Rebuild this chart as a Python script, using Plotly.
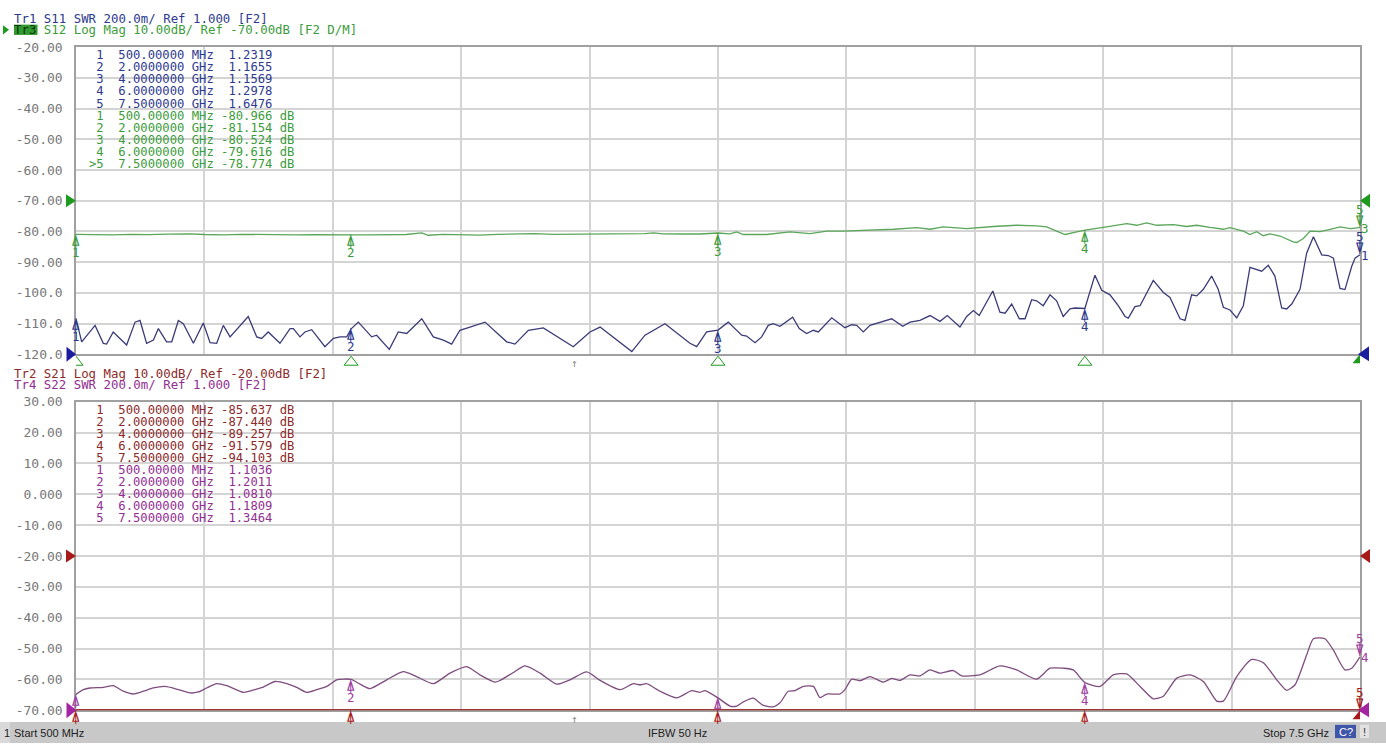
import plotly.graph_objects as go

W, H = 1386, 751

# ---------------- sweep and marker readouts ----------------
marker_freq = [0.5, 2.0, 4.0, 6.0, 7.5]  # GHz
marker_freq_text = ["500.00000 MHz", "2.0000000 GHz", "4.0000000 GHz",
                    "6.0000000 GHz", "7.5000000 GHz"]
s11_marker = [1.2319, 1.1655, 1.1569, 1.2978, 1.6476]          # SWR
s12_marker = [-80.966, -81.154, -80.524, -79.616, -78.774]     # dB
s21_marker = [-85.637, -87.440, -89.257, -91.579, -94.103]     # dB
s22_marker = [1.1036, 1.2011, 1.0810, 1.1809, 1.3464]          # SWR
arrow_freq = 3.22

# ---------------- trace data ----------------
s11_f = [0.500, 0.531, 0.604, 0.649, 0.667, 0.703, 0.776, 0.822, 0.849, 0.885,
         0.922, 0.949, 0.994, 1.022, 1.058, 1.085, 1.140, 1.194, 1.231, 1.267,
         1.303, 1.340, 1.439, 1.485, 1.512, 1.548, 1.612, 1.667, 1.685, 1.721,
         1.748, 1.785, 1.857, 1.903, 1.939, 1.976, 2.000, 2.039, 2.112, 2.139,
         2.208, 2.257, 2.303, 2.385, 2.448, 2.503, 2.548, 2.593, 2.648, 2.730,
         2.848, 2.893, 2.966, 3.048, 3.211, 3.302, 3.357, 3.530, 3.602, 3.647,
         3.711, 3.847, 3.884, 3.938, 4.000, 4.056, 4.129, 4.156, 4.202, 4.238,
         4.274, 4.301, 4.338, 4.407, 4.443, 4.483, 4.520, 4.547, 4.620, 4.692,
         4.729, 4.756, 4.792, 4.829, 4.883, 4.910, 4.947, 5.007, 5.047, 5.101,
         5.156, 5.210, 5.250, 5.319, 5.356, 5.392, 5.424, 5.498, 5.537, 5.565,
         5.601, 5.643, 5.674, 5.710, 5.737, 5.773, 5.810, 5.846, 5.882, 5.919,
         5.946, 6.000, 6.055, 6.092, 6.137, 6.182, 6.219, 6.237, 6.273, 6.301,
         6.373, 6.428, 6.464, 6.519, 6.546, 6.582, 6.610, 6.646, 6.691, 6.727,
         6.755, 6.791, 6.828, 6.864, 6.900, 6.964, 7.000, 7.036, 7.073, 7.100,
         7.128, 7.173, 7.209, 7.246, 7.291, 7.327, 7.355, 7.391, 7.418, 7.455,
         7.473, 7.500]
s11_swr = [1.2319, 1.081, 1.188, 1.071, 1.066, 1.145, 1.060, 1.209, 1.220, 1.071,
           1.092, 1.167, 1.081, 1.081, 1.220, 1.199, 1.071, 1.203, 1.075, 1.071,
           1.188, 1.113, 1.246, 1.113, 1.103, 1.145, 1.071, 1.167, 1.167, 1.113,
           1.145, 1.160, 1.049, 1.103, 1.113, 1.113, 1.1655, 1.209, 1.113, 1.124,
           1.032, 1.145, 1.135, 1.231, 1.113, 1.092, 1.066, 1.156, 1.177, 1.209,
           1.081, 1.066, 1.156, 1.171, 1.049, 1.145, 1.177, 1.017, 1.124, 1.156,
           1.199, 1.071, 1.049, 1.145, 1.1569, 1.209, 1.124, 1.118, 1.075, 1.113,
           1.188, 1.199, 1.182, 1.241, 1.167, 1.135, 1.156, 1.145, 1.237, 1.173,
           1.192, 1.188, 1.145, 1.188, 1.209, 1.220, 1.231, 1.182, 1.209, 1.220,
           1.252, 1.214, 1.252, 1.177, 1.246, 1.284, 1.252, 1.412, 1.274, 1.267,
           1.327, 1.231, 1.231, 1.355, 1.348, 1.316, 1.387, 1.348, 1.246, 1.295,
           1.301, 1.2978, 1.515, 1.417, 1.387, 1.316, 1.246, 1.235, 1.310, 1.316,
           1.481, 1.402, 1.370, 1.231, 1.220, 1.387, 1.380, 1.423, 1.509, 1.423,
           1.306, 1.288, 1.237, 1.316, 1.566, 1.541, 1.579, 1.509, 1.301, 1.295,
           1.327, 1.423, 1.658, 1.765, 1.647, 1.643, 1.626, 1.429, 1.421, 1.573,
           1.626, 1.6476]

s12_f = [0.500, 0.55, 0.62, 0.70, 0.80, 0.90, 1.00, 1.12, 1.20, 1.30, 1.40, 1.50,
         1.60, 1.70, 1.80, 1.90, 2.00, 2.10, 2.20, 2.30, 2.385, 2.42, 2.50, 2.60,
         2.70, 2.80, 2.90, 3.00, 3.10, 3.20, 3.30, 3.40, 3.50, 3.60, 3.65, 3.70,
         3.80, 3.90, 4.00, 4.065, 4.102, 4.138, 4.265, 4.392, 4.502, 4.593, 4.683,
         4.865, 4.956, 5.083, 5.156, 5.228, 5.356, 5.501, 5.628, 5.737, 5.792,
         5.846, 5.892, 5.937, 6.000, 6.119, 6.228, 6.283, 6.337, 6.392, 6.482,
         6.555, 6.610, 6.682, 6.755, 6.791, 6.864, 6.900, 6.937, 6.973, 7.009,
         7.064, 7.136, 7.155, 7.191, 7.228, 7.282, 7.337, 7.392, 7.446, 7.500]
s12_db = [-80.966, -81.05, -80.95, -81.10, -80.95, -81.05, -80.90, -80.80, -81.00,
          -81.10, -80.95, -81.05, -80.95, -81.15, -81.05, -81.20, -81.154, -81.10,
          -81.00, -81.00, -80.50, -81.25, -80.95, -81.05, -81.20, -80.95, -80.85,
          -80.75, -80.95, -80.90, -81.00, -80.90, -80.95, -80.70, -80.45, -80.80,
          -80.85, -80.85, -80.524, -80.80, -80.15, -81.00, -81.00, -80.15, -80.70,
          -79.90, -79.90, -79.60, -79.30, -78.80, -79.30, -78.50, -79.10, -78.40,
          -78.00, -78.20, -78.50, -79.90, -81.00, -80.40, -79.616, -78.50, -77.50,
          -78.00, -77.20, -78.00, -77.80, -78.40, -78.00, -78.70, -79.30, -78.80,
          -79.90, -81.00, -80.10, -81.40, -80.80, -81.50, -83.40, -83.60, -82.30,
          -79.90, -80.10, -79.30, -78.50, -79.10, -78.774]

s22_f = [0.500, 0.540, 0.576, 0.649, 0.703, 0.758, 0.812, 0.867, 0.921, 0.985,
         1.049, 1.121, 1.167, 1.212, 1.267, 1.322, 1.412, 1.485, 1.521, 1.585,
         1.649, 1.703, 1.758, 1.812, 1.867, 1.921, 2.000, 2.048, 2.103, 2.194,
         2.284, 2.357, 2.448, 2.539, 2.630, 2.702, 2.784, 2.812, 2.884, 2.948,
         3.030, 3.121, 3.193, 3.284, 3.357, 3.466, 3.538, 3.575, 3.611, 3.684,
         3.775, 3.857, 3.902, 3.929, 4.000, 4.065, 4.102, 4.138, 4.192, 4.247,
         4.302, 4.338, 4.383, 4.420, 4.465, 4.520, 4.556, 4.593, 4.665, 4.692,
         4.729, 4.774, 4.829, 4.901, 4.947, 4.992, 5.047, 5.101, 5.156, 5.210,
         5.283, 5.329, 5.428, 5.537, 5.628, 5.737, 5.810, 5.882, 5.937, 6.000,
         6.083, 6.155, 6.228, 6.301, 6.373, 6.428, 6.501, 6.573, 6.646, 6.719,
         6.755, 6.828, 6.910, 6.973, 7.046, 7.100, 7.146, 7.209, 7.246, 7.309,
         7.355, 7.418, 7.455, 7.500]
s22_swr = [1.1036, 1.134, 1.145, 1.149, 1.160, 1.124, 1.106, 1.124, 1.145, 1.155,
           1.138, 1.113, 1.119, 1.145, 1.173, 1.160, 1.117, 1.138, 1.151, 1.187,
           1.173, 1.149, 1.117, 1.134, 1.155, 1.198, 1.2011, 1.170, 1.141, 1.198,
           1.251, 1.219, 1.173, 1.241, 1.283, 1.230, 1.183, 1.194, 1.245, 1.288,
           1.241, 1.170, 1.198, 1.249, 1.194, 1.134, 1.173, 1.166, 1.173, 1.124,
           1.081, 1.128, 1.117, 1.128, 1.0810, 1.028, 1.028, 1.055, 1.079, 1.032,
           1.023, 1.049, 1.124, 1.128, 1.155, 1.155, 1.083, 1.106, 1.106, 1.134,
           1.202, 1.192, 1.219, 1.183, 1.207, 1.194, 1.230, 1.224, 1.262, 1.241,
           1.258, 1.224, 1.230, 1.288, 1.262, 1.202, 1.273, 1.273, 1.262, 1.1809,
           1.155, 1.230, 1.236, 1.155, 1.075, 1.092, 1.209, 1.230, 1.187, 1.060,
           1.060, 1.219, 1.330, 1.309, 1.198, 1.130, 1.166, 1.358, 1.464, 1.464,
           1.390, 1.262, 1.273, 1.3464]

# S21 is far below the display window; the analyzer pins it to the bottom edge
s21_f = marker_freq
s21_db = s21_marker

top_ticks = [-20, -30, -40, -50, -60, -70, -80, -90, -100, -110, -120]
top_tick_text = ["-20.00", "-30.00", "-40.00", "-50.00", "-60.00", "-70.00",
                 "-80.00", "-90.00", "-100.0", "-110.0", "-120.0"]
bot_ticks = [30, 20, 10, 0, -10, -20, -30, -40, -50, -60, -70]
bot_tick_text = ["30.00", "20.00", "10.00", "0.000", "-10.00", "-20.00",
                 "-30.00", "-40.00", "-50.00", "-60.00", "-70.00"]

# ---------------- styling ----------------
NAVY_TXT, NAVY_LN, NAVY_FILL = "#2e3a8e", "#3b3b78", "#1c1ca0"
GREEN_TXT, GREEN_LN, GREEN_FILL = "#3c9c3c", "#5aa65a", "#1e9a1e"
RED_TXT, RED_LN, RED_FILL = "#8c2a2a", "#a03434", "#a81a1a"
PURP_TXT, PURP_LN, PURP_FILL = "#922e92", "#7e4c7e", "#a424a4"
GRID, FRAME, TICK = "#d4d4d4", "#a0a0a0", "#787878"
MONO = "DejaVu Sans Mono"
SANS = "Liberation Sans"


def px(x):
    return x / W


def py(y):
    return 1 - y / H


X_DOM = [px(76), px(1360)]
TOP_DOM = [py(354.3), py(41)]
BOT_DOM = [py(717.7), py(402.7)]

Y_LO_BOT, Y_HI_BOT = -70, 30
s21_shown = [min(max(v, Y_LO_BOT), Y_HI_BOT) for v in s21_db]

fig = go.Figure()
fig.add_trace(go.Scatter(x=s12_f, y=s12_db, xaxis="x", yaxis="y", mode="lines",
                         line=dict(color=GREEN_LN, width=1.3), hoverinfo="skip"))
fig.add_trace(go.Scatter(x=s11_f, y=s11_swr, xaxis="x", yaxis="y3", mode="lines",
                         line=dict(color=NAVY_LN, width=1.3), hoverinfo="skip"))
fig.add_trace(go.Scatter(x=s21_f, y=s21_shown, xaxis="x2", yaxis="y2", mode="lines",
                         line=dict(color=RED_LN, width=2.5), hoverinfo="skip",
                         cliponaxis=False))
fig.add_trace(go.Scatter(x=s22_f, y=s22_swr, xaxis="x2", yaxis="y4", mode="lines",
                         line=dict(color=PURP_LN, width=1.3, shape="spline",
                                   smoothing=0.6), hoverinfo="skip"))

axis_base = dict(showgrid=True, gridcolor=GRID, gridwidth=1.5, zeroline=False,
                 showline=True, linecolor=FRAME, linewidth=1.5, mirror=True,
                 ticks="")
xcommon = dict(domain=X_DOM, range=[0.5, 7.5], tick0=0.5, dtick=0.7,
               showticklabels=False, **axis_base)
ytick_font = dict(family=MONO, size=13, color=TICK)

annotations = []
shapes = []


def ann(x, y, text, color, size=12.4, family=MONO, xanchor="left", yanchor="middle"):
    annotations.append(dict(xref="paper", yref="paper", x=px(x), y=py(y), text=text,
                            showarrow=False, xanchor=xanchor, yanchor=yanchor,
                            font=dict(family=family, size=size, color=color)))


def mk(x, y, xref, yref, text, color, size=13, xshift=0, yshift=0):
    annotations.append(dict(xref=xref, yref=yref, x=x, y=y, text=text, showarrow=False,
                            xanchor="center", yanchor="middle", xshift=xshift,
                            yshift=yshift,
                            font=dict(family=MONO, size=size, color=color)))


# ---- channel headers ----
ann(12, 11.7, "Tr1 S11 SWR 200.0m/ Ref 1.000 [F2]", NAVY_TXT)
shapes.append(dict(type="rect", xref="paper", yref="paper", x0=px(14), x1=px(37.5),
                   y0=py(28.5), y1=py(18), fillcolor="#2f9a2f", line=dict(width=0),
                   layer="below"))
shapes.append(dict(type="path", xref="paper", yref="paper",
                   path=f"M {px(3)},{py(18.5)} L {px(3)},{py(28)} L {px(9)},{py(23.3)} Z",
                   fillcolor=GREEN_FILL, line=dict(width=0)))
ann(12, 23.3, '<span style="color:#0c340c">Tr3</span> S12 Log Mag 10.00dB/ Ref -70.00dB [F2 D/M]',
    GREEN_TXT)
ann(12, 374.3, "Tr2 S21 Log Mag 10.00dB/ Ref -20.00dB [F2]", RED_TXT)
ann(12, 385.0, "Tr4 S22 SWR 200.0m/ Ref 1.000 [F2]", PURP_TXT)

# ---- marker tables ----
NB = "\u00a0"


def table_row(idx, active, ftext, value, unit_db):
    pfx = (">" if active else " ") + str(idx)
    val = f"{value:.3f}" if unit_db else f"{value:.4f}"
    line = f"{pfx}  {ftext} {val:>7}" + (" dB" if unit_db else "")
    return line.replace(" ", NB)


rows_top = ([(i + 1, False, marker_freq_text[i], s11_marker[i], False, NAVY_TXT) for i in range(5)] +
            [(i + 1, i == 4, marker_freq_text[i], s12_marker[i], True, GREEN_TXT) for i in range(5)])
rows_bot = ([(i + 1, False, marker_freq_text[i], s21_marker[i], True, RED_TXT) for i in range(5)] +
            [(i + 1, False, marker_freq_text[i], s22_marker[i], False, PURP_TXT) for i in range(5)])
for k, (i, act, ft, v, isdb, col) in enumerate(rows_top):
    ann(87, 49.3 + 12.3 * k, table_row(i, act, ft, v, isdb), col, size=12.2)
for k, (i, act, ft, v, isdb, col) in enumerate(rows_bot):
    ann(87, 411.0 + 12.3 * k, table_row(i, act, ft, v, isdb), col, size=12.2)

# ---- marker glyphs on the traces ----
UP, DOWN = "\u234b", "\u2352"


def trace_markers(values, xref, yref, color, trace_no, numbered=(1, 2, 3, 4)):
    for i, (f, v) in enumerate(zip(marker_freq, values)):
        n = i + 1
        if n < 5:
            mk(f, v, xref, yref, UP, color, yshift=-7)
            if n in numbered:
                mk(f, v, xref, yref, str(n), color, size=12.5, yshift=-18)
        else:
            mk(f, v, xref, yref, DOWN, color, yshift=7)
            mk(f, v, xref, yref, "5", color, size=12.5, yshift=18)
            if trace_no:
                mk(f, v, xref, yref, trace_no, color, size=12.5, xshift=5, yshift=-1)


trace_markers(s12_marker, "x", "y", GREEN_TXT, "3")
trace_markers(s11_marker, "x", "y3", NAVY_TXT, "1")
trace_markers(s22_marker, "x2", "y4", "#a040a0", "4", numbered=(2, 4))
trace_markers(s21_shown, "x2", "y2", RED_FILL, None, numbered=())

# ---- axis-edge indicators ----
for f in marker_freq[:4]:
    shapes.append(dict(type="path", xref="x", yref="y domain", xsizemode="pixel",
                       ysizemode="pixel", xanchor=f, yanchor=0,
                       path="M 0,-2 L -7,-11 L 7,-11 Z",
                       line=dict(color=GREEN_FILL, width=1)))
# active-marker and reference-position triangles
shapes += [
    dict(type="path", xref="x", yref="y domain", xsizemode="pixel", ysizemode="pixel",
         xanchor=marker_freq[4], yanchor=0, path="M 0,0 L -7.5,-9 L 7.5,-9 Z",
         fillcolor=GREEN_FILL, line=dict(width=0)),
    dict(type="path", xref="x domain", yref="y domain", xsizemode="pixel", ysizemode="pixel",
         xanchor=1, yanchor=0, path="M 9,8 L 9,-7 L -2,0 Z",
         fillcolor=NAVY_FILL, line=dict(width=0)),
    dict(type="path", xref="x domain", yref="y domain", xsizemode="pixel", ysizemode="pixel",
         xanchor=0, yanchor=0, path="M -9.5,7.5 L -9.5,-7.5 L 0,0 Z",
         fillcolor=NAVY_FILL, line=dict(width=0)),
    dict(type="path", xref="x domain", yref="y", xsizemode="pixel", ysizemode="pixel",
         xanchor=0, yanchor=-70, path="M -10,6.5 L -10,-6.5 L 0,0 Z",
         fillcolor=GREEN_FILL, line=dict(width=0)),
    dict(type="path", xref="x domain", yref="y", xsizemode="pixel", ysizemode="pixel",
         xanchor=1, yanchor=-70, path="M 10,7 L 10,-7 L 0,0 Z",
         fillcolor=GREEN_FILL, line=dict(width=0)),
    dict(type="path", xref="x2 domain", yref="y2", xsizemode="pixel", ysizemode="pixel",
         xanchor=0, yanchor=-20, path="M -10,6.5 L -10,-6.5 L 0,0 Z",
         fillcolor=RED_FILL, line=dict(width=0)),
    dict(type="path", xref="x2 domain", yref="y2", xsizemode="pixel", ysizemode="pixel",
         xanchor=1, yanchor=-20, path="M 10,7 L 10,-7 L 0,0 Z",
         fillcolor=RED_FILL, line=dict(width=0)),
    dict(type="path", xref="x2 domain", yref="y2 domain", xsizemode="pixel", ysizemode="pixel",
         xanchor=0, yanchor=0, path="M -9.5,8 L -9.5,-8 L 0.5,0 Z",
         fillcolor=PURP_FILL, line=dict(width=0)),
    dict(type="path", xref="x2", yref="y2 domain", xsizemode="pixel", ysizemode="pixel",
         xanchor=marker_freq[4], yanchor=0, path="M 0,0 L -7.5,-9 L 7.5,-9 Z",
         fillcolor=RED_FILL, line=dict(width=0)),
    dict(type="path", xref="x2 domain", yref="y2 domain", xsizemode="pixel", ysizemode="pixel",
         xanchor=1, yanchor=0, path="M 9,8 L 9,-7 L -2,0 Z",
         fillcolor=PURP_FILL, line=dict(width=0)),
]

# small stimulus arrows under both grids
for yref in ("y domain", "y2 domain"):
    annotations.append(dict(xref="x" if yref.startswith("y ") else "x2", yref=yref,
                            x=arrow_freq, y=0, yanchor="top", yshift=-1, text="\u2191",
                            showarrow=False, font=dict(family=MONO, size=11, color="#8a8a8a")))

# ---- status bar ----
shapes += [
    dict(type="rect", xref="paper", yref="paper", x0=0, x1=1, y0=0, y1=py(729.5),
         fillcolor="#c8c8c8", line=dict(width=0), layer="above"),
    dict(type="rect", xref="paper", yref="paper", x0=0, x1=px(10), y0=0, y1=py(729.5),
         fillcolor="#d9d9d9", line=dict(width=0), layer="above"),
    dict(type="rect", xref="paper", yref="paper", x0=px(1335), x1=px(1356),
         y0=py(746), y1=py(732.5), fillcolor="#3f55a8", line=dict(width=0), layer="above"),
    dict(type="rect", xref="paper", yref="paper", x0=px(1360), x1=px(1369),
         y0=py(746), y1=py(732.5), fillcolor="#e2e2e2", line=dict(width=0), layer="above"),
]
ann(2, 740.5, "1", "#222222", size=11, family=SANS)
ann(12, 740.5, "Start 500 MHz", "#222222", size=11, family=SANS)
ann(677, 740.5, "IFBW 50 Hz", "#222222", size=11, family=SANS, xanchor="center")
ann(1331, 740.5, "Stop 7.5 GHz", "#222222", size=11, family=SANS, xanchor="right")
ann(1345.5, 739.5, "C?", "#ffffff", size=11, family=SANS, xanchor="center")
ann(1364.5, 739.5, "!", "#333333", size=11, family=SANS, xanchor="center")

fig.update_layout(
    width=W, height=H, margin=dict(l=0, r=0, t=0, b=0),
    paper_bgcolor="white", plot_bgcolor="white", showlegend=False,
    xaxis=dict(anchor="y", **xcommon),
    xaxis2=dict(anchor="y2", layer="below traces", **xcommon),
    yaxis=dict(domain=TOP_DOM, range=[-120, -20], tickvals=top_ticks,
               ticktext=top_tick_text, tickfont=ytick_font, ticklabelstandoff=9,
               anchor="x", **axis_base),
    yaxis2=dict(domain=BOT_DOM, range=[Y_LO_BOT, Y_HI_BOT], tickvals=bot_ticks,
                ticktext=bot_tick_text, tickfont=ytick_font, ticklabelstandoff=9,
                anchor="x2", layer="below traces", **axis_base),
    yaxis3=dict(overlaying="y", range=[1.0, 3.0], visible=False, anchor="x"),
    yaxis4=dict(overlaying="y2", range=[1.0, 3.0], visible=False, anchor="x2"),
    annotations=annotations, shapes=shapes,
)

fig.write_html("out.html", post_script="document.body.style.margin='0';")
